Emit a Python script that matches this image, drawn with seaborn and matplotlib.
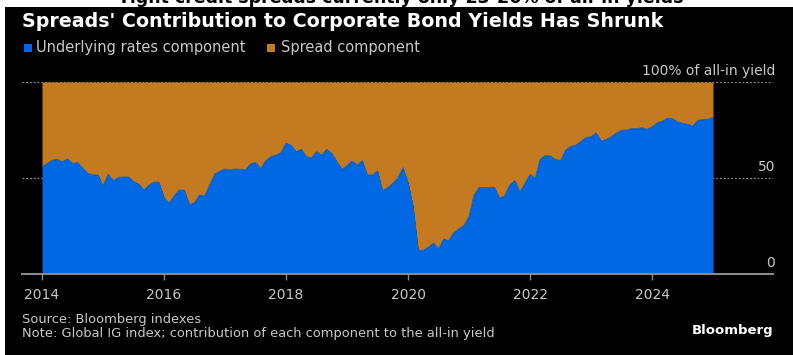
import numpy as np
import pandas as pd
import matplotlib
matplotlib.use("Agg")
import matplotlib.pyplot as plt
import matplotlib.transforms as mtransforms
from matplotlib.patches import Rectangle
import seaborn as sns

# ---- data (share of all-in yield from underlying rates, %) ----
rates_2014 = [55.9, 57.5, 59.3, 59.7, 58.5, 60.0, 57.6, 58.0, 55.0, 52.4, 51.6, 51.6]
rates_2015 = [45.8, 51.9, 48.6, 50.3, 50.5, 50.5, 48.1, 46.9, 43.8, 46.2, 47.8, 47.8]
rates_2016 = [39.8, 36.9, 40.7, 43.8, 43.6, 36.0, 37.2, 41.2, 40.7, 46.5, 52.1, 53.6]
rates_2017 = [54.7, 54.2, 54.7, 54.5, 54.2, 57.3, 58.1, 54.8, 59.0, 61.1, 61.9, 63.1]
rates_2018 = [68.2, 67.0, 63.7, 64.9, 61.1, 60.4, 63.8, 61.9, 64.9, 62.8, 58.5, 54.5]
rates_2019 = [56.5, 58.8, 56.7, 59.0, 51.6, 51.6, 53.6, 43.3, 45.0, 47.2, 50.0, 55.4]
rates_2020 = [47.6, 35.1, 12.3, 12.3, 14.0, 16.1, 13.0, 18.3, 17.3, 21.6, 23.5, 25.3]
rates_2021 = [29.9, 41.2, 45.2, 45.0, 45.1, 45.2, 39.4, 40.7, 46.4, 48.6, 42.7, 47.2]
rates_2022 = [51.9, 49.8, 59.7, 61.8, 61.4, 59.7, 59.0, 64.5, 66.4, 67.1, 69.0, 71.1]
rates_2023 = [71.5, 73.5, 69.2, 70.1, 71.5, 73.5, 74.9, 74.9, 75.8, 75.6, 76.3, 75.3]
rates_2024 = [76.6, 78.7, 79.6, 81.1, 81.0, 79.2, 78.5, 78.0, 77.0, 80.1, 80.4, 80.6]
rates_2025 = [81.5]

rates = (rates_2014 + rates_2015 + rates_2016 + rates_2017 + rates_2018 + rates_2019
         + rates_2020 + rates_2021 + rates_2022 + rates_2023 + rates_2024 + rates_2025)
dates = pd.date_range("2014-01-01", periods=len(rates), freq="MS")
total = 100.0

year_ticks = [2014, 2016, 2018, 2020, 2022, 2024]
y_labels = {100: "100% of all-in yield", 50: "50", 0: "0"}

title = "Spreads' Contribution to Corporate Bond Yields Has Shrunk"
top_text = "Tight credit spreads currently only 23-26% of all-in yields"
legend_labels = ["Underlying rates component", "Spread component"]
source = "Source: Bloomberg indexes"
note = "Note: Global IG index; contribution of each component to the all-in yield"

BLUE = "#0068e2"
ORANGE = "#c47a20"
GRID = "#8a8a8a"
TXT = "#c8c8c8"

df = pd.DataFrame({"date": dates, "rates": rates})
df["x"] = df["date"].dt.year + (df["date"].dt.month - 1) / 12.0
df["total"] = total

sns.set_theme(style="dark")
plt.rcParams["font.family"] = ["DejaVu Sans"]

W, H = 793, 355
fig = plt.figure(figsize=(W / 100, H / 100), dpi=100, facecolor="white")
fig.patches.append(Rectangle((5 / W, 0), 1, 1 - 7 / H, transform=fig.transFigure,
                             facecolor="black", edgecolor="none", zorder=-10))

ax = fig.add_axes([22 / W, (H - 274) / H, (773 - 22) / W, (274 - 82) / H])
ax.set_zorder(5)
ax.set_facecolor("black")
ax.patch.set_alpha(0)

ax.fill_between(df["x"], df["rates"], df["total"], color=ORANGE, lw=0, zorder=2)
ax.fill_between(df["x"], 0, df["rates"], color=BLUE, lw=0, zorder=2)
sns.lineplot(data=df, x="x", y="rates", ax=ax, color=BLUE, lw=0.6, zorder=3)

x0 = 2014 + (22 - 42) / 61.0
x1 = 2014 + (773 - 42) / 61.0
ax.set_xlim(x0, x1)
ax.set_ylim(0, 100)

for v in [100, 50]:
    ax.axhline(v, color=GRID, lw=0.9, ls=(0, (1.5, 1.5)), zorder=1)

ax.set_yticks([])
ax.set_xticks(year_ticks)
ax.set_xticklabels([str(y) for y in year_ticks], fontsize=10, color=TXT)
ax.tick_params(axis="x", direction="out", length=4, width=1, color=GRID, pad=6, bottom=True)
ax.set_xlabel("")
ax.set_ylabel("")
ax.grid(False)
for s in ["left", "right", "top"]:
    ax.spines[s].set_visible(False)
ax.spines["bottom"].set_color(GRID)
ax.spines["bottom"].set_linewidth(1.5)

trans = mtransforms.blended_transform_factory(ax.transAxes, ax.transData)
for v, lab in y_labels.items():
    ax.annotate(lab, xy=(1.003, v), xycoords=trans, xytext=(0, 5), textcoords="offset points",
                ha="right", va="baseline", fontsize=10, color=TXT, annotation_clip=False)

# texts
fig.text(0.505, 1 - 3.0 / H, top_text, ha="center", va="baseline", fontsize=12.5,
         fontweight="bold", color="black")
fig.text(22 / W, 1 - 27 / H, title, ha="left", va="baseline", fontsize=13.7,
         fontweight="bold", color="white")

# legend
fig.patches.append(Rectangle((24 / W, 1 - 52 / H), 8 / W, 8 / H, transform=fig.transFigure,
                             facecolor=BLUE, edgecolor="none", zorder=10))
fig.text(36 / W, 1 - 52 / H, legend_labels[0], ha="left", va="baseline", fontsize=10.5,
         color=TXT)
fig.patches.append(Rectangle((267 / W, 1 - 52 / H), 8 / W, 8 / H, transform=fig.transFigure,
                             facecolor=ORANGE, edgecolor="none", zorder=10))
fig.text(281 / W, 1 - 52 / H, legend_labels[1], ha="left", va="baseline", fontsize=10.5,
         color=TXT)

fig.text(22 / W, 1 - 323.5 / H, source, ha="left", va="baseline", fontsize=9.4, color=TXT)
fig.text(22 / W, 1 - 337.5 / H, note, ha="left", va="baseline", fontsize=9.4, color=TXT)
fig.text(773 / W, 1 - 334 / H, "Bloomberg", ha="right", va="baseline", fontsize=9.5,
         fontweight="bold", color="white")

fig.savefig("out.png", dpi=100, facecolor=fig.get_facecolor())
